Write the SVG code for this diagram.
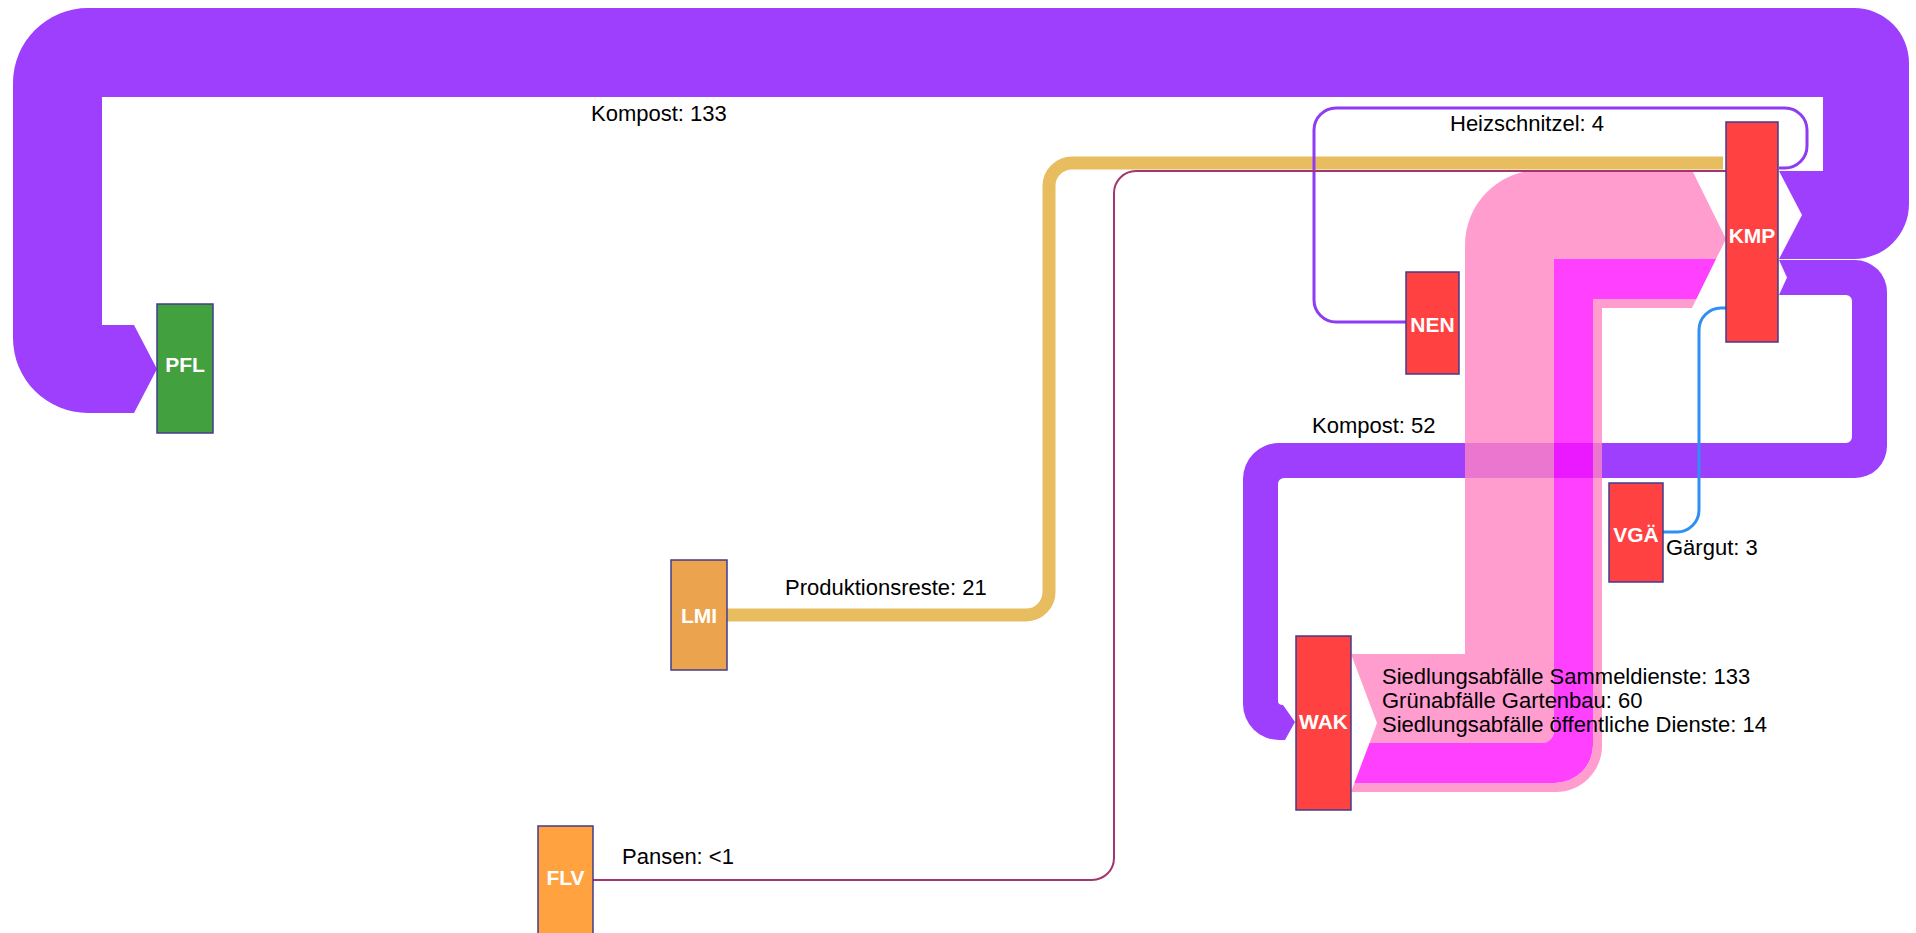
<svg xmlns="http://www.w3.org/2000/svg" width="1916" height="933" viewBox="0 0 1916 933">
  <style>
    .node { stroke: #413d8f; stroke-width: 1.5; }
    .red { fill: #ff4141; }
    .nlabel { font-family: "Liberation Sans", Arial, sans-serif; font-size: 21px; font-weight: bold; fill: #ffffff; text-anchor: middle; }
    .flabel { font-family: "Liberation Sans", Arial, sans-serif; font-size: 22px; fill: #000000; }
    .band-purple { fill: #9d3ffc; }
    .band-pink { fill: #ff84c3; fill-opacity: 0.8; }
    .band-magenta { fill: #ff10ff; fill-opacity: 0.8; }
    .line { fill: none; }
  </style>

  <rect width="1916" height="933" fill="#ffffff"/>

  <g id="connectors">
    <!-- Kompost 133: KMP -> PFL, loops over the top -->
    <path class="band-purple" d="M 1779,171 H 1823 V 97 H 102 V 325 H 134 L 157,369 L 134,413 H 88 A 75 75 0 0 1 13,338 V 83 A 75 75 0 0 1 88,8 H 1854 A 55 55 0 0 1 1909,63 V 204 A 55 55 0 0 1 1854,259 H 1779 L 1802,215 Z"/>
    <!-- Kompost 52: KMP -> WAK -->
    <path class="band-purple" d="M 1779,260 H 1855 A 32 32 0 0 1 1887,292 V 446 A 32 32 0 0 1 1855,478 H 1284 A 6 6 0 0 0 1278,484 V 701 Q 1278,705 1283,705 L 1295,722 L 1285,740 H 1279 A 36 36 0 0 1 1243,704 V 479 A 36 36 0 0 1 1279,443 H 1846 A 6 6 0 0 0 1852,437 V 301 A 6 6 0 0 0 1846,295 H 1779 L 1787,277.5 Z"/>
    <!-- Produktionsreste: LMI -> KMP -->
    <path class="line" stroke="#e8bd5f" stroke-width="13" d="M 727,615 H 1026 A 23 23 0 0 0 1049,592 V 186 A 23 23 0 0 1 1072,163 H 1723"/>
    <!-- WAK -> KMP bands -->
    <path class="band-pink" d="M 1351,654 H 1465 V 245 A 75 75 0 0 1 1540,170 H 1692 L 1726,239 L 1716,259 H 1554 V 731 A 12 12 0 0 1 1542,743 H 1369.5 L 1377,723 Z"/>
    <path class="band-magenta" d="M 1369.5,743 H 1542 A 12 12 0 0 0 1554,731 V 259 H 1716 L 1696.4,299 H 1593 V 745 A 38 38 0 0 1 1555,783 H 1354.4 Z"/>
    <path class="band-pink" d="M 1354.4,783 H 1555 A 38 38 0 0 0 1593,745 V 299 H 1696.4 L 1692,308 H 1602 V 746 A 46 46 0 0 1 1556,792 H 1351 Z"/>
    <!-- Heizschnitzel: KMP -> NEN -->
    <path class="line" stroke="#8f3bf3" stroke-width="3" d="M 1779,168 H 1785 A 22 22 0 0 0 1807,146 V 130 A 22 22 0 0 0 1785,108 H 1336 A 22 22 0 0 0 1314,130 V 300 A 22 22 0 0 0 1336,322 H 1406"/>
    <!-- Pansen: FLV -> KMP -->
    <path class="line" stroke="#a3356f" stroke-width="2" d="M 593,880 H 1092 A 22 22 0 0 0 1114,858 V 193 A 22 22 0 0 1 1136,171 H 1726"/>
    <!-- Gärgut: VGÄ -> KMP -->
    <path class="line" stroke="#2f8ff2" stroke-width="3" d="M 1663,532 H 1677 A 22 22 0 0 0 1699,510 V 330 A 22 22 0 0 1 1721,308 H 1726"/>

    <text class="flabel" x="591" y="121">Kompost: 133</text>
    <text class="flabel" x="1450" y="131">Heizschnitzel: 4</text>
    <text class="flabel" x="1312" y="433">Kompost: 52</text>
    <text class="flabel" x="785" y="595">Produktionsreste: 21</text>
    <text class="flabel" x="622" y="864">Pansen: &lt;1</text>
    <text class="flabel" x="1666" y="555">Gärgut: 3</text>
    <text class="flabel" x="1382" y="684">Siedlungsabfälle Sammeldienste: 133</text>
    <text class="flabel" x="1382" y="708">Grünabfälle Gartenbau: 60</text>
    <text class="flabel" x="1382" y="732">Siedlungsabfälle öffentliche Dienste: 14</text>
  </g>

  <g id="PFL">
    <rect class="node" x="157" y="304" width="56" height="129" fill="#43a03f"/>
    <text class="nlabel" x="185" y="372">PFL</text>
  </g>
  <g id="LMI">
    <rect class="node" x="671" y="560" width="56" height="110" fill="#eca34e"/>
    <text class="nlabel" x="699" y="623">LMI</text>
  </g>
  <g id="FLV">
    <rect class="node" x="538" y="826" width="55" height="112" fill="#ffa23f"/>
    <text class="nlabel" x="565.5" y="885">FLV</text>
  </g>
  <g id="WAK">
    <rect class="node red" x="1296" y="636" width="55" height="174"/>
    <text class="nlabel" x="1323.5" y="729">WAK</text>
  </g>
  <g id="NEN">
    <rect class="node red" x="1406" y="272" width="53" height="102"/>
    <text class="nlabel" x="1432.5" y="332">NEN</text>
  </g>
  <g id="KMP">
    <rect class="node red" x="1726" y="122" width="52" height="220"/>
    <text class="nlabel" x="1752" y="243">KMP</text>
  </g>
  <g id="VGA">
    <rect class="node red" x="1609" y="483" width="54" height="99"/>
    <text class="nlabel" x="1636" y="542">VGÄ</text>
  </g>
</svg>
